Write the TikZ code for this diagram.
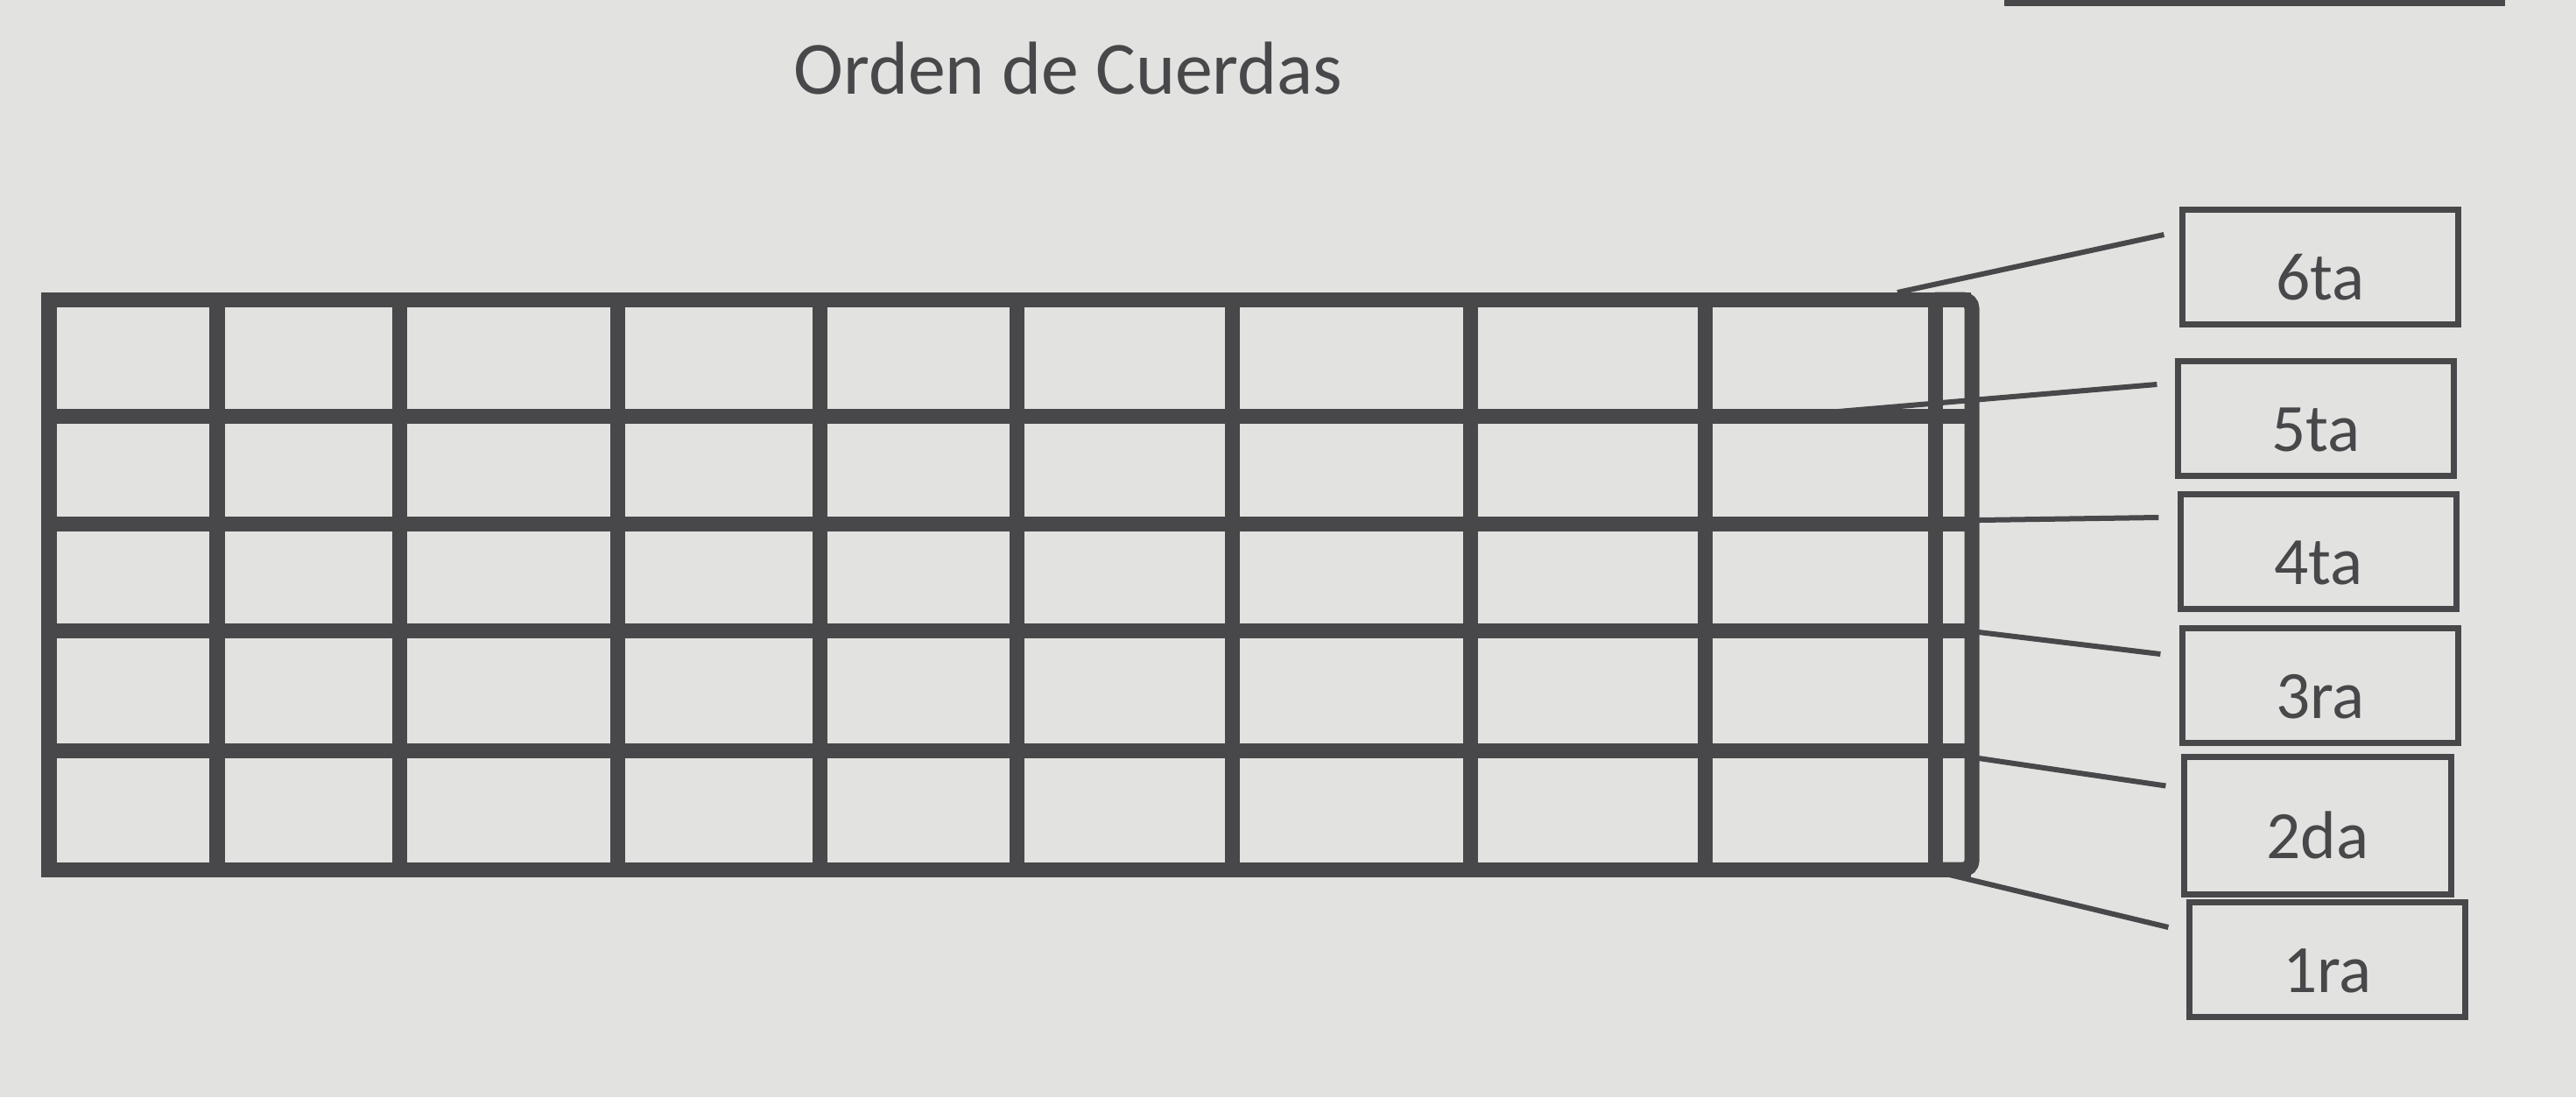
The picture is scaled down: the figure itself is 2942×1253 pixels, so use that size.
\documentclass[tikz,border=0pt]{standalone}
\usepackage{fontspec}
\setmainfont{Carlito}
\definecolor{paper}{RGB}{226,226,224}
\definecolor{ink}{RGB}{72,72,74}

\begin{document}
\begin{tikzpicture}[
            x = 0.01cm, y = -0.01cm,
            every node/.style={text=ink, font=\fontsize{22}{26}\selectfont},
            line/.style={ink, line width = .17cm, line cap = rect},
            lead/.style={ink, line width = .06cm},
            labelbox/.style={draw=ink, line width = .07cm, minimum width = 3.14cm, minimum height = 1.31cm,
                             text height = .74cm, text depth = 0pt, inner sep = 0pt},
            ]

        \fill[paper] (0,0) rectangle (2942,1253);
        \useasboundingbox (0,0) rectangle (2942,1253);

        \node[font=\fontsize{24.4}{28}\selectfont, anchor=base] (title) at (1220,107) {Orden de Cuerdas};
        \draw[ink, line width = .1cm] (2289,2) -- (2861,2);

        \draw[line] (56,342) -- (2242,342);
        \draw[line] (56,475) -- (2242,475);
        \draw[line] (56,598) -- (2242,598);
        \draw[line] (56,720) -- (2242,720);
        \draw[line] (56,857) -- (2242,857);
        \draw[line] (56,993) -- (2242,993);

        \draw[line] (56,342) -- (56,993);
        \draw[line] (248,342) -- (248,993);
        \draw[line] (456,342) -- (456,993);
        \draw[line] (705,342) -- (705,993);
        \draw[line] (936,342) -- (936,993);
        \draw[line] (1161,342) -- (1161,993);
        \draw[line] (1407,342) -- (1407,993);
        \draw[line] (1679,342) -- (1679,993);
        \draw[line] (1947,342) -- (1947,993);
        \draw[line] (2210,342) -- (2210,993);
        \draw[line, line cap = butt, rounded corners = .1cm] (2210,342) -- (2252,342) -- (2252,993) -- (2210,993);

        \coordinate (s6) at (2167,334);
        \coordinate (s5) at (2064,473);
        \coordinate (s4) at (2260,594);
        \coordinate (s3) at (2260,722);
        \coordinate (s2) at (2260,866);
        \coordinate (s1) at (2214,996);

        \node[labelbox] (l6) at (2650,305) {6ta};
        \node[labelbox] (l5) at (2645,478) {5ta};
        \node[labelbox] (l4) at (2648,630) {4ta};
        \node[labelbox] (l3) at (2650,783) {3ra};
        \node[labelbox, minimum width = 3.04cm, minimum height = 1.56cm] (l2) at (2647,943) {2da};
        \node[labelbox] (l1) at (2658,1096) {1ra};

        \draw[lead] (s6) -- ([xshift=-.18cm, yshift=-.32cm]l6.north west);
        \draw[lead] (s5) -- ([xshift=-.21cm, yshift=-.30cm]l5.north west);
        \draw[lead] (s4) -- ([xshift=-.22cm, yshift=-.30cm]l4.north west);
        \draw[lead] (s3) -- ([xshift=-.22cm, yshift=-.33cm]l3.north west);
        \draw[lead] (s2) -- ([xshift=-.18cm, yshift=-.36cm]l2.north west);
        \draw[lead] (s1) -- ([xshift=-.21cm, yshift=-.32cm]l1.north west);
    \end{tikzpicture}
\end{document}
